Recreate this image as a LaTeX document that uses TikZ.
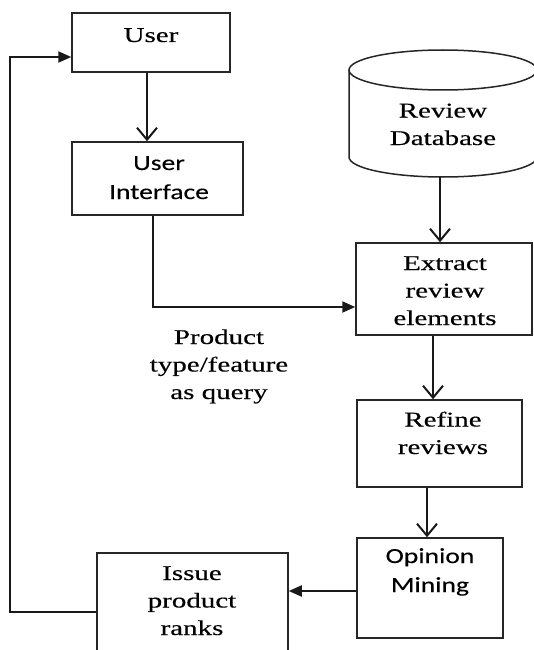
\documentclass[tikz,border=0pt]{standalone}
\usepackage{fontspec}
\setmainfont{Liberation Serif}
\newfontfamily\serifwide[FakeStretch=1.38,FakeBold=0.3]{Liberation Serif}
\newfontfamily\calwide[FakeStretch=1.28,FakeBold=0.15]{Carlito}
\usetikzlibrary{arrows.meta}
\begin{document}
\begin{tikzpicture}[x=1pt,y=-1pt,
  box/.style={draw=black!85, line width=1.5pt, inner sep=0pt},
  stxt/.style={align=center, inner sep=0pt, anchor=base, font=\serifwide\fontsize{21}{27.5}\selectfont},
  ctxt/.style={align=center, inner sep=0pt, anchor=base, font=\calwide\fontsize{21.5}{29}\selectfont},
  conn/.style={draw=black!90, line width=2pt},
  openarr/.style={conn, -{Straight Barb[length=12pt,width=20pt]}},
  fillarr/.style={conn, -{Triangle[length=13pt,width=11pt]}}]
\useasboundingbox (0,0) rectangle (534,650);
\fill[white] (0,0) rectangle (534,650);

% boxes
\node[box, minimum width=158pt, minimum height=59pt] (user) at (151,42.5) {};
\node[box, minimum width=171pt, minimum height=73pt] (ui) at (157.5,178.5) {};
\node[box, minimum width=176pt, minimum height=92pt] (ext) at (444,289) {};
\node[box, minimum width=165pt, minimum height=87pt] (ref) at (439.5,443.5) {};
\node[box, minimum width=146pt, minimum height=100pt] (opi) at (430,588) {};
\node[box, minimum width=191pt, minimum height=118pt] (iss) at (192.5,612) {};

% cylinder (database)
\draw[draw=black!85, line width=1.5pt]
  (349,70) -- (349,157) arc[start angle=180, end angle=360, x radius=94pt, y radius=20pt]
  -- (537,70);
\draw[draw=black!85, line width=1.5pt] (443,70) ellipse[x radius=94pt, y radius=20pt];
\coordinate (dbb) at (440,177);

% texts (anchor = baseline of last line)
\node[stxt] at (151,42) {User};
\node[ctxt] at (159,199) {User\\Interface};
\node[stxt] at (443,145) {Review\\Database};
\node[stxt] at (445,325) {Extract\\review\\elements};
\node[stxt] at (219,399) {Product\\type/feature\\as query};
\node[stxt] at (443,454) {Refine\\reviews};
\node[ctxt] at (430,592) {Opinion\\Mining};
\node[stxt] at (192,635) {Issue\\product\\ranks};

% connectors
\draw[openarr] ([xshift=-4pt]user.south) -- ([xshift=-10.5pt]ui.north);
\draw[openarr] (dbb) -- ([xshift=-4pt]ext.north);
\draw[openarr] ([xshift=-11pt]ext.south) -- ([xshift=-6.5pt]ref.north);
\draw[openarr] ([xshift=-12.5pt]ref.south) -- ([xshift=-3pt]opi.north);
\draw[fillarr] ([xshift=-4.5pt]ui.south) |- ([yshift=-18pt]ext.west);
\draw[fillarr] ([yshift=-3pt]opi.west) -- ([yshift=21pt]iss.east);
\draw[fillarr] (iss.west) -| ([xshift=-61pt,yshift=-14.5pt]user.west) -- ([yshift=-14.5pt]user.west);
\end{tikzpicture}
\end{document}
